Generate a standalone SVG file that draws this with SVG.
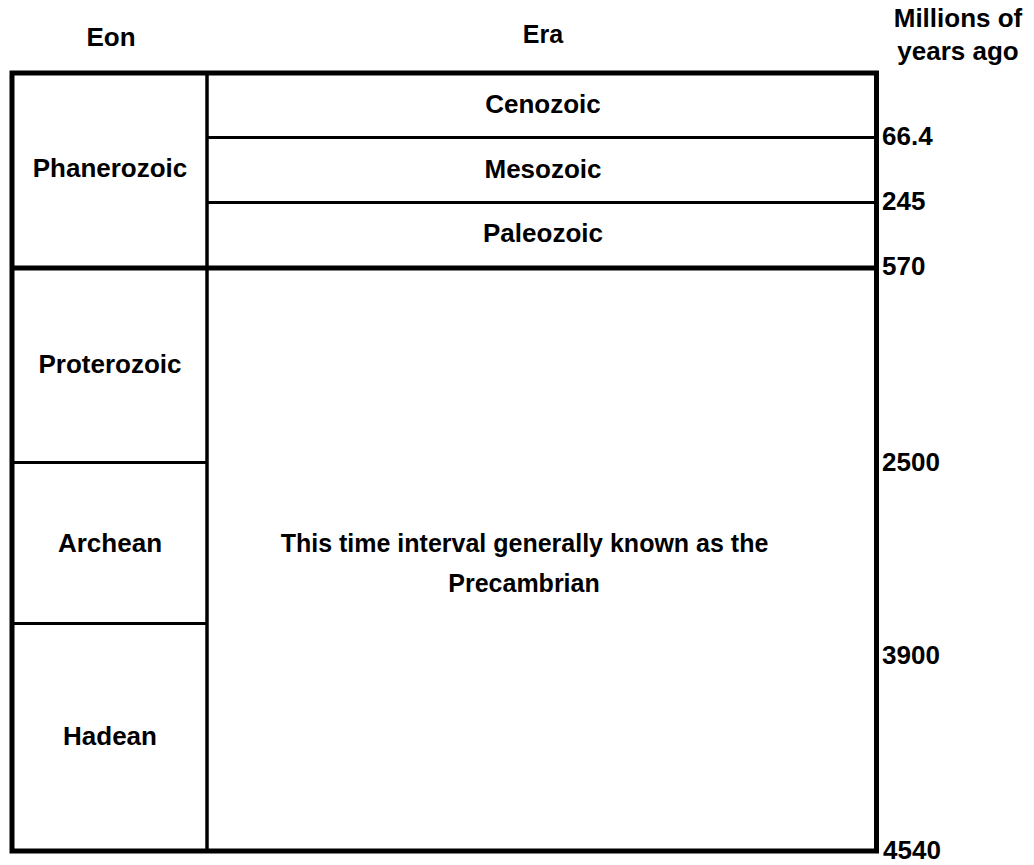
<svg xmlns="http://www.w3.org/2000/svg" width="1034" height="865" viewBox="0 0 1034 865">
<style>
text{font-family:"Liberation Sans",Arial,sans-serif;font-weight:bold;font-size:26px;fill:#000}
.c{text-anchor:middle}
.s{font-size:25px}
.thick{stroke:#000;stroke-width:5;fill:none}
.thin{stroke:#000;stroke-width:3;fill:none}
</style>
<rect width="1034" height="865" fill="#fff"/>
<g id="headers">
<text class="c" x="111" y="46">Eon</text>
<text class="c s" x="543" y="43">Era</text>
<text class="c" x="958" y="27">Millions of</text>
<text class="c" x="958" y="60">years ago</text>
</g>
<g id="frame">
<rect class="thick" x="12" y="73" width="864.5" height="778"/>
<line class="thick" x1="12" y1="268" x2="876.5" y2="268"/>
<line stroke="#000" stroke-width="3.5" x1="207" y1="73" x2="207" y2="851"/>
</g>
<g id="phanerozoic">
<text class="c" x="110" y="177">Phanerozoic</text>
</g>
<g id="cenozoic">
<text class="c" x="543" y="113">Cenozoic</text>
<line class="thin" x1="207" y1="137.5" x2="876" y2="137.5"/>
</g>
<g id="mesozoic">
<text class="c" x="543" y="178">Mesozoic</text>
<line class="thin" x1="207" y1="202.5" x2="876" y2="202.5"/>
</g>
<g id="paleozoic">
<text class="c" x="543" y="242">Paleozoic</text>
</g>
<g id="proterozoic">
<text class="c" x="110" y="373">Proterozoic</text>
</g>
<g id="archean">
<line class="thin" x1="12" y1="462.5" x2="207" y2="462.5"/>
<text class="c" x="110" y="552">Archean</text>
<line class="thin" x1="12" y1="623.5" x2="207" y2="623.5"/>
</g>
<g id="hadean">
<text class="c" x="110" y="745">Hadean</text>
</g>
<g id="precambrian">
<text class="c s" x="524.5" y="552">This time interval generally known as the</text>
<text class="c s" x="524" y="592">Precambrian</text>
</g>
<g id="ages">
<text x="882" y="145">66.4</text>
<text x="882" y="210">245</text>
<text x="882" y="275">570</text>
<text x="882" y="471">2500</text>
<text x="882" y="664">3900</text>
<text x="883" y="859">4540</text>
</g>
</svg>
